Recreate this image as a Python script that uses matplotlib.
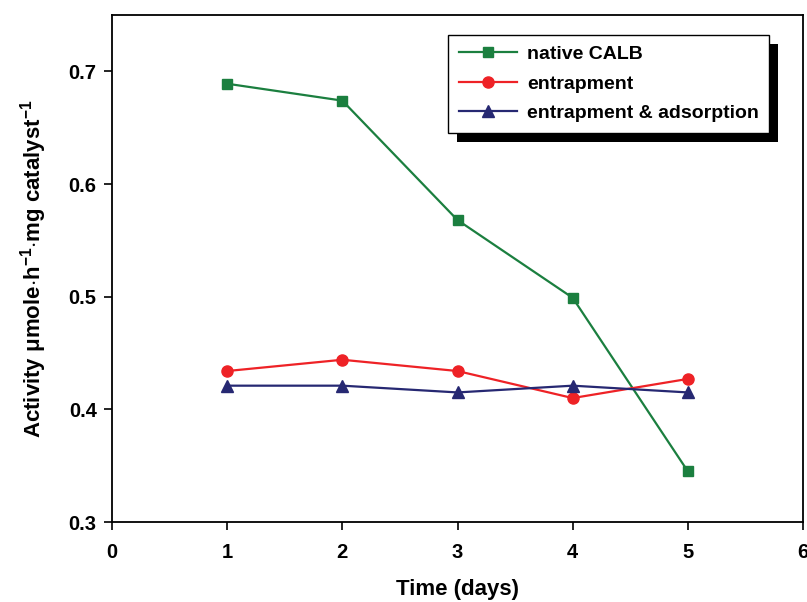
import matplotlib
matplotlib.use("Agg")
from matplotlib import pyplot as plt
from matplotlib.patches import Rectangle

# data
days = [1, 2, 3, 4, 5]
nativeCALB = [0.689, 0.674, 0.568, 0.499, 0.345]
entrapment = [0.434, 0.444, 0.434, 0.410, 0.427]
entrapAdsorp = [0.421, 0.421, 0.415, 0.421, 0.415]
xTicks = [0, 1, 2, 3, 4, 5, 6]
yTicks = [0.3, 0.4, 0.5, 0.6, 0.7]

plt.rcParams["font.family"] = ["Liberation Sans", "DejaVu Sans"]
plt.rcParams["font.weight"] = "bold"
plt.rcParams["mathtext.fontset"] = "custom"
plt.rcParams["mathtext.rm"] = "Liberation Sans:bold"
plt.rcParams["mathtext.it"] = "Liberation Sans:bold"
plt.rcParams["mathtext.bf"] = "Liberation Sans:bold"

fig = plt.figure(figsize=(8.07, 6.02), dpi=100)
ax = fig.add_axes([112 / 807, 80 / 602, 691 / 807, 507 / 602])

ax.plot(days, nativeCALB, color="#1b7f3f", marker="s", markersize=7, lw=1.6, label="native CALB")
ax.plot(days, entrapment, color="#ee2226", marker="o", markersize=8, lw=1.6, label="entrapment")
ax.plot(days, entrapAdsorp, color="#262872", marker="^", markersize=8, lw=1.6, label="entrapment & adsorption")

ax.set_xlim(0, 6)
ax.set_ylim(0.3, 0.75)
ax.set_xticks(xTicks)
ax.set_yticks(yTicks)
ax.set_xticklabels([str(t) for t in xTicks])
ax.set_yticklabels(["%.1f" % t for t in yTicks])
ax.tick_params(direction="out", length=6, width=1.2, labelsize=14.5)
ax.tick_params(axis="x", pad=9)
ax.tick_params(axis="y", pad=5)
for s in ax.spines.values():
    s.set_linewidth(1.3)

ax.set_xlabel("Time (days)", fontsize=16, fontweight="bold", labelpad=12)
ax.set_ylabel(r"Activity $\mu$mole$\cdot$h$^{-1}$$\cdot$mg catalyst$^{-1}$", fontsize=16, fontweight="bold", labelpad=14)

leg = ax.legend(loc="upper left", bbox_to_anchor=(336 / 691, 1 - 20 / 507), fontsize=14,
                frameon=True, fancybox=False, edgecolor="black", framealpha=1,
                handlelength=3.0, borderpad=0.55, labelspacing=0.6, handletextpad=0.5,
                borderaxespad=0)
leg.get_frame().set_linewidth(1.0)

# solid black drop shadow behind the legend box
fig.canvas.draw()
bb = leg.get_window_extent()
shadow = Rectangle((bb.x0 + 9, bb.y0 - 9), bb.width, bb.height, transform=None,
                   facecolor="black", edgecolor="none", zorder=leg.get_zorder() - 0.5)
ax.add_artist(shadow)

fig.savefig("out.png", dpi=100)
